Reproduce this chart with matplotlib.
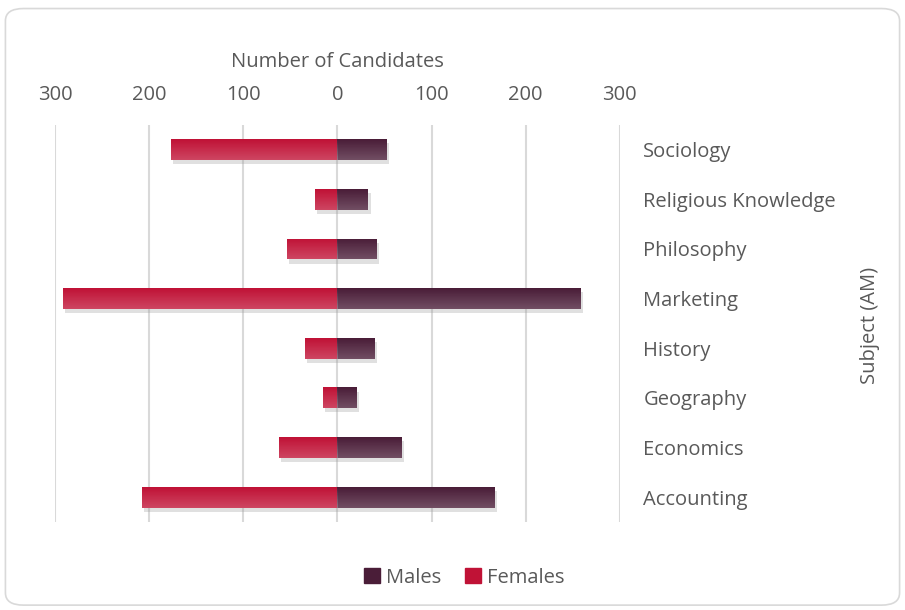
import matplotlib.pyplot as plt
import matplotlib.patheffects as pe
from matplotlib.patches import FancyBboxPatch, Patch
from matplotlib.colors import LinearSegmentedColormap
import numpy as np

subjects = ['Sociology', 'Religious Knowledge', 'Philosophy', 'Marketing',
            'History', 'Geography', 'Economics', 'Accounting']
males = [53, 33, 42, 259, 40, 21, 69, 167]
females = [177, 24, 54, 292, 34, 15, 62, 208]
ticks = [-300, -200, -100, 0, 100, 200, 300]

male_color = '#4a1d38'
female_color = '#c01236'
text_color = '#595959'

plt.rcParams['font.family'] = ['Open Sans', 'DejaVu Sans']

fig = plt.figure(figsize=(9.05, 6.10), dpi=100)
fig.patch.set_facecolor('white')

# rounded chart border
border = FancyBboxPatch((0.006, 0.008), 0.988, 0.978,
                        boxstyle='round,pad=0,rounding_size=0.02',
                        transform=fig.transFigure, facecolor='none',
                        edgecolor='#d9d9d9', linewidth=1.2, zorder=-1)
fig.patches.append(border)

ax = fig.add_axes([0.0608, 0.1443, 0.624, 0.651])
ax.set_facecolor('none')

y = np.arange(len(subjects))
shadow = [pe.SimplePatchShadow(offset=(1.5, -3), shadow_rgbFace='#999999', alpha=0.3), pe.Normal()]

fb = ax.barh(y, [-v for v in females], height=0.42, color=female_color, zorder=3)
mb = ax.barh(y, males, height=0.42, color=male_color, zorder=3)

# light vertical gradient on the bars
grad = np.linspace(0, 1, 50).reshape(-1, 1)
gcmap = LinearSegmentedColormap.from_list('g', [(1, 1, 1, 0.0), (1, 1, 1, 0.22)])
for p in list(fb) + list(mb):
    p.set_path_effects(shadow)
    x0, y0 = p.get_x(), p.get_y()
    w, h = p.get_width(), p.get_height()
    im = ax.imshow(grad, cmap=gcmap, extent=[x0, x0 + w, y0 + h, y0],
                   origin='upper', aspect='auto', zorder=4)
    im.set_clip_path(p)

ax.set_xlim(-300, 300)
ax.set_ylim(len(subjects) - 0.5, -0.5)
ax.set_xticks(ticks)
ax.set_xticklabels([str(abs(t)) for t in ticks])
ax.xaxis.tick_top()
ax.xaxis.set_label_position('top')
ax.set_xlabel('Number of Candidates', fontsize=14.5, color=text_color, labelpad=13)
ax.tick_params(axis='x', length=0, pad=14, labelsize=14.5, labelcolor=text_color)

ax.yaxis.tick_right()
ax.set_yticks(y)
ax.set_yticklabels(subjects)
ax.tick_params(axis='y', length=0, pad=17, labelsize=14.5, labelcolor=text_color)

ax.grid(axis='x', color='#d9d9d9', linewidth=1.5, zorder=0)
ax.set_axisbelow(True)
for s in ax.spines.values():
    s.set_visible(False)

fig.text(0.961, 0.467, 'Subject (AM)', rotation=90, ha='center', va='center',
         fontsize=14.5, color=text_color)

handles = [Patch(color=male_color, label='Males'), Patch(color=female_color, label='Females')]
fig.legend(handles=handles, loc='center', bbox_to_anchor=(0.513, 0.053), ncol=2,
           frameon=False, fontsize=14.5, labelcolor=text_color, handlelength=0.8,
           handleheight=0.8, handletextpad=0.3, columnspacing=1.2)

fig.savefig('out.png', dpi=100)
